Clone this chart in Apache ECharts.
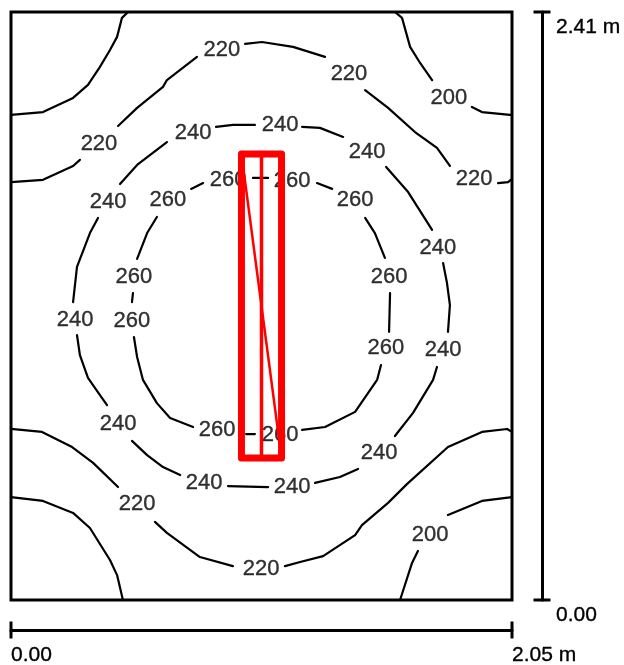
<!DOCTYPE html>
<html>
<head>
<meta charset="utf-8">
<script src="https://cdn.jsdelivr.net/npm/echarts@6/dist/echarts.min.js"></script>
<style>
html,body{margin:0;padding:0;background:#fff;}
#chart{width:624px;height:665px;}
</style>
</head>
<body>
<div id="chart"></div>
<script>
// Room size (m)
const roomWidth = 2.05;
const roomDepth = 2.41;
const xTickLabels = ['0.00', '2.05 m'];
const yTickLabels = ['0.00', '2.41 m'];

// Isolines [x m, y m]; null = gap where the value label sits
const iso200TopLeft = [[0.479,2.41],[0.454,2.386],[0.434,2.308],[0.405,2.254],[0.364,2.185],[0.315,2.111],[0.254,2.058],[0.131,2.000],[0,1.988]];
const iso200TopRight = [[1.571,2.41],[1.600,2.386],[1.633,2.267],[1.674,2.201],[1.723,2.131],null,[1.886,2.021],[1.927,2.000],[2.042,1.988],[2.05,1.988]];
const iso200BottomLeft = [[0,0.422],[0.131,0.406],[0.254,0.357],[0.323,0.295],[0.405,0.164],[0.434,0.102],[0.458,0]];
const iso200BottomRight = [[2.05,0.422],[1.927,0.406],[1.788,0.348],null,[1.665,0.201],[1.641,0.152],[1.592,0]];
const iso220Top = [[0,1.713],[0.131,1.722],[0.254,1.779],[0.282,1.804],null,[0.438,1.943],[0.516,2.017],[0.622,2.103],[0.638,2.131],[0.761,2.226],null,[0.958,2.279],[1.027,2.287],[1.154,2.267],[1.285,2.226],null,[1.449,2.090],[1.543,2.017],[1.653,1.918],[1.743,1.853],[1.796,1.779],null,[1.993,1.709],[2.034,1.713],[2.05,1.726]];
const iso220Bottom = [[0,0.701],[0.127,0.689],[0.250,0.627],[0.336,0.562],[0.438,0.463],null,[0.589,0.320],[0.638,0.275],[0.773,0.176],[0.908,0.139],null,[1.121,0.139],[1.183,0.156],[1.277,0.180],[1.408,0.266],[1.436,0.307],[1.543,0.398],[1.620,0.475],[1.788,0.627],[1.927,0.689],[2.030,0.701],[2.05,0.689]];
const iso240 = [[0.254,1.221],[0.270,1.365],[0.323,1.504],[0.356,1.566],null,[0.446,1.705],[0.516,1.783],[0.638,1.877],null,[0.839,1.939],[0.908,1.947],[0.998,1.947],null,[1.191,1.939],[1.264,1.935],[1.359,1.898],null,[1.535,1.775],[1.625,1.672],[1.723,1.517],null,[1.768,1.381],[1.784,1.299],[1.796,1.209],[1.788,1.099],null,[1.743,0.955],[1.727,0.902],[1.645,0.767],[1.571,0.672],null,[1.420,0.537],[1.346,0.504],[1.244,0.480],null,[1.052,0.463],[0.888,0.467],null,[0.692,0.512],[0.622,0.545],[0.557,0.594],[0.495,0.652],null,[0.393,0.799],[0.364,0.840],[0.315,0.910],[0.282,1.004],[0.270,1.086]];
const iso260 = [[0.737,1.685],[0.786,1.709],null,[0.990,1.730],[1.052,1.730],null,[1.252,1.709],[1.314,1.685],null,[1.449,1.566],[1.489,1.504],[1.530,1.402],null,[1.551,1.258],[1.547,1.099],null,[1.514,0.963],[1.498,0.902],[1.408,0.771],[1.285,0.709],[1.191,0.697],null,[0.962,0.680],[0.998,0.680],null,[0.745,0.709],[0.651,0.746],[0.597,0.807],[0.540,0.902],[0.516,0.996],[0.503,1.078],null,[0.495,1.221],[0.499,1.258],null,[0.516,1.398],[0.557,1.504],[0.597,1.570]];

// Value label positions [x m, y m, lux]
const labels200 = [[1.792,2.058,200],[1.715,0.266,200]];
const labels220 = [[0.360,1.869,220],[0.863,2.254,220],[1.383,2.156,220],[1.895,1.726,220],[0.516,0.393,220],[1.023,0.127,220]];
const labels240 = [[0.397,1.631,240],[0.745,1.914,240],[1.101,1.947,240],[1.457,1.836,240],[1.747,1.443,240],[1.768,1.025,240],[1.506,0.603,240],[1.150,0.463,240],[0.790,0.480,240],[0.438,0.721,240],[0.262,1.148,240]];
const labels260 = [[0.642,1.640,260],[0.888,1.722,260],[1.150,1.717,260],[1.408,1.640,260],[1.547,1.324,260],[1.534,1.033,260],[1.101,0.676,260],[0.843,0.697,260],[0.495,1.144,260],[0.503,1.324,260]];

// Luminaire outline (m)
const luminaireX = [0.943, 1.025, 1.107];
const luminaireY = [0.582, 1.828];

const chart = echarts.init(document.getElementById('chart'), null, {renderer: 'canvas'});
const FONT = 'Liberation Sans, Arial, sans-serif';

function isoLine(data) {
  return {
    type: 'line', data: data, symbol: 'none', showSymbol: false, connectNulls: false,
    smooth: false, silent: true, z: 2,
    lineStyle: {color: '#000', width: 2.2, join: 'round', cap: 'round'}
  };
}
function redLine(data, width) {
  return {
    type: 'line', data: data, symbol: 'none', showSymbol: false, silent: true, z: 5,
    lineStyle: {color: '#ff0000', width: width, join: 'round', cap: 'round'}
  };
}
const allLabels = labels200.concat(labels220, labels240, labels260);

const [lx0, lxm, lx1] = luminaireX;
const [ly0, ly1] = luminaireY;

const textStyle = {color: '#000', fontFamily: FONT, textBorderColor: '#000', textBorderWidth: 0.35};

const option = {
  animation: false,
  backgroundColor: '#fff',
  grid: {
    left: 11, right: 112, top: 12, bottom: 65,
    show: true, borderColor: '#000', borderWidth: 3, backgroundColor: 'transparent',
    outerBoundsMode: 'none', containLabel: false
  },
  xAxis: {
    type: 'value', min: 0, max: roomWidth, interval: roomWidth,
    position: 'bottom', offset: 30,
    splitLine: {show: false}, axisTick: {show: false},
    axisLine: {show: true, onZero: false, symbol: ['rect', 'rect'], symbolSize: [17, 3],
      lineStyle: {color: '#000', width: 3}},
    axisLabel: Object.assign({
      show: true, margin: 15, align: 'left', verticalAlign: 'top', fontSize: 21,
      showMinLabel: true, showMaxLabel: true,
      formatter: v => (v === 0 ? xTickLabels[0] : xTickLabels[1])
    }, textStyle)
  },
  yAxis: {
    type: 'value', min: 0, max: roomDepth, interval: roomDepth,
    position: 'right', offset: 30,
    splitLine: {show: false}, axisTick: {show: false},
    axisLine: {show: true, onZero: false, symbol: ['rect', 'rect'], symbolSize: [17, 3],
      lineStyle: {color: '#000', width: 3}},
    axisLabel: Object.assign({
      show: true, margin: 14, align: 'left', verticalAlign: 'top', padding: [5, 0, 0, 0], fontSize: 21,
      showMinLabel: true, showMaxLabel: true,
      formatter: v => (v === 0 ? yTickLabels[0] : yTickLabels[1])
    }, textStyle)
  },
  series: [
    isoLine(iso200TopLeft), isoLine(iso200TopRight), isoLine(iso200BottomLeft), isoLine(iso200BottomRight),
    isoLine(iso220Top), isoLine(iso220Bottom), isoLine(iso240), isoLine(iso260),
    {
      type: 'scatter', data: allLabels, symbol: 'circle', symbolSize: 1, silent: true, z: 3,
      itemStyle: {color: 'rgba(0,0,0,0)'},
      label: Object.assign({show: true, position: 'inside', fontSize: 22,
        formatter: p => String(p.value[2])}, textStyle)
    },
    redLine([[lx0, ly1], [lx1, ly1], [lx1, ly0], [lx0, ly0], [lx0, ly1]], 7),
    redLine([[lxm, ly1], [lxm, ly0]], 3.5),
    redLine([[lx0, ly1], [lx1, ly0]], 2.5)
  ]
};
chart.setOption(option);
</script>
</body>
</html>
